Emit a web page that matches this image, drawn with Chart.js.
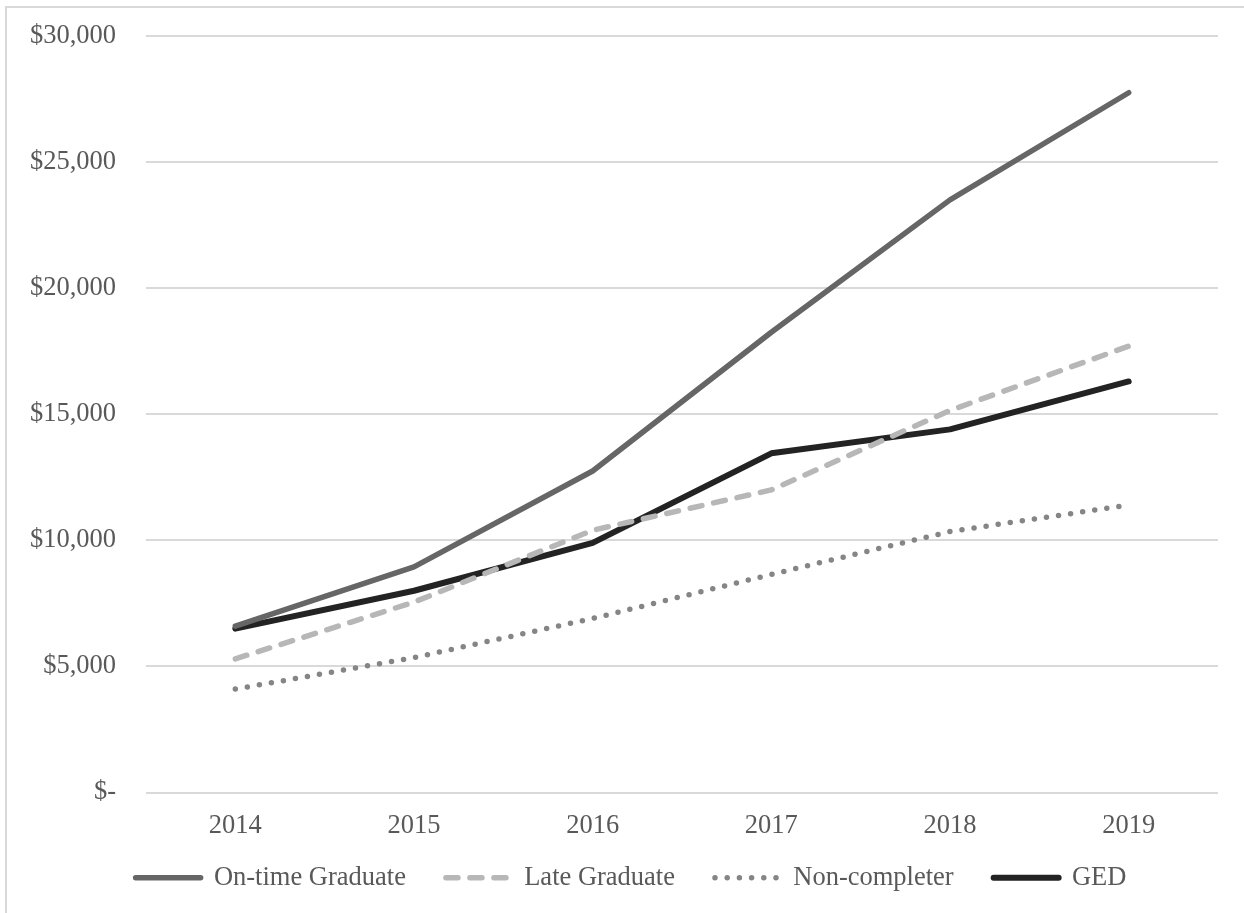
<!DOCTYPE html>
<html>
<head>
<meta charset="utf-8">
<script src="https://cdn.jsdelivr.net/npm/chart.js@4.4.1/dist/chart.umd.min.js"></script>
<style>
  html, body { margin: 0; padding: 0; background: #ffffff; overflow: hidden; }
  #frame {
    position: absolute; left: 5px; top: 6px; width: 1400px; height: 1100px;
    border: 2px solid #d9d9d9; box-sizing: border-box;
  }
  #wrap { position: absolute; left: 0; top: 0; width: 1244px; height: 913px; }
</style>
</head>
<body>
<div id="frame"></div>
<div id="wrap"><canvas id="chart"></canvas></div>
<script>
// Median annual earnings by completion status, 2014–2019
const years = ['2014', '2015', '2016', '2017', '2018', '2019'];
const onTimeGraduate = [6600, 8950, 12750, 18250, 23500, 27750];
const lateGraduate   = [5300, 7550, 10400, 12000, 15150, 17700];
const nonCompleter   = [4100, 5350, 6900, 8650, 10350, 11400];
const ged            = [6500, 8000, 9900, 13450, 14400, 16300];

const seriesNames = ['On-time Graduate', 'Late Graduate', 'Non-completer', 'GED'];
const yMin = 0, yMax = 30000, yStep = 5000;

const FONT = '"Liberation Serif", "Times New Roman", serif';
const TEXT = '#595959';

function money(v) {
  if (v === 0) return '$-';
  return '$' + v.toLocaleString('en-US');
}

// Legend entries drawn as short line samples using each series' own stroke style
function lineLegendLabels(chart) {
  return chart.data.datasets.map((ds, i) => ({
    text: ds.label,
    datasetIndex: i,
    fontColor: TEXT,
    fillStyle: 'rgba(0,0,0,0)',
    strokeStyle: ds.borderColor,
    lineWidth: ds.borderWidth,
    lineDash: ds.borderDash || [],
    lineDashOffset: 0,
    lineCap: ds.borderCapStyle || 'round',
    lineJoin: 'round',
    pointStyle: 'line',
    hidden: false
  }));
}

// Move the legend row closer to the category labels and centre it under the plot
const legendNudge = {
  id: 'legendNudge',
  beforeDraw(chart, args, opts) {
    const lg = chart.legend;
    if (lg && !lg._nudged) {
      lg.top -= opts.dy;
      lg.bottom -= opts.dy;
      lg.left += opts.dx;
      lg.right += opts.dx;
      lg._nudged = true;
    }
  }
};

new Chart(document.getElementById('chart'), {
  type: 'line',
  plugins: [legendNudge],
  data: {
    labels: years,
    datasets: [
      {
        label: seriesNames[0], data: onTimeGraduate,
        borderColor: '#666666', backgroundColor: '#666666',
        borderWidth: 5.5, borderCapStyle: 'round', borderJoinStyle: 'round'
      },
      {
        label: seriesNames[1], data: lateGraduate,
        borderColor: '#b7b7b7', backgroundColor: '#b7b7b7',
        borderWidth: 5.5, borderDash: [12, 12], borderCapStyle: 'round', borderJoinStyle: 'round'
      },
      {
        label: seriesNames[2], data: nonCompleter,
        borderColor: '#858585', backgroundColor: '#858585',
        borderWidth: 5.5, borderDash: [0, 12.2], borderCapStyle: 'round', borderJoinStyle: 'round'
      },
      {
        label: seriesNames[3], data: ged,
        borderColor: '#232323', backgroundColor: '#232323',
        borderWidth: 6, borderCapStyle: 'round', borderJoinStyle: 'round'
      }
    ]
  },
  options: {
    responsive: true,
    maintainAspectRatio: false,
    animation: false,
    events: [],
    elements: { point: { radius: 0 }, line: { tension: 0 } },
    layout: { padding: { top: 36, right: 26, bottom: 0, left: 0 } },
    scales: {
      x: {
        offset: true,
        grid: { display: false, drawTicks: false },
        border: { display: false },
        ticks: { color: TEXT, font: { family: FONT, size: 26.5 }, padding: 18, maxRotation: 0 },
        afterFit(scale) { scale.height = 44; }
      },
      y: {
        min: yMin, max: yMax,
        grid: { color: '#d9d9d9', lineWidth: 2, drawTicks: true, tickLength: 27, tickColor: 'rgba(0,0,0,0)' },
        border: { display: false },
        ticks: {
          stepSize: yStep, color: TEXT, padding: 3,
          font: { family: FONT, size: 26.5 },
          callback: (v) => money(v)
        },
        afterFit(scale) { scale.width = 146; }
      }
    },
    plugins: {
      tooltip: { enabled: false },
      legendNudge: { dy: 12, dx: 22 },
      legend: {
        position: 'bottom',
        labels: {
          usePointStyle: true,
          pointStyle: 'line',
          pointStyleWidth: 65,
          boxHeight: 26,
          padding: 40,
          color: TEXT,
          font: { family: FONT, size: 26.5 },
          generateLabels: lineLegendLabels
        }
      }
    }
  }
});
</script>
</body>
</html>
